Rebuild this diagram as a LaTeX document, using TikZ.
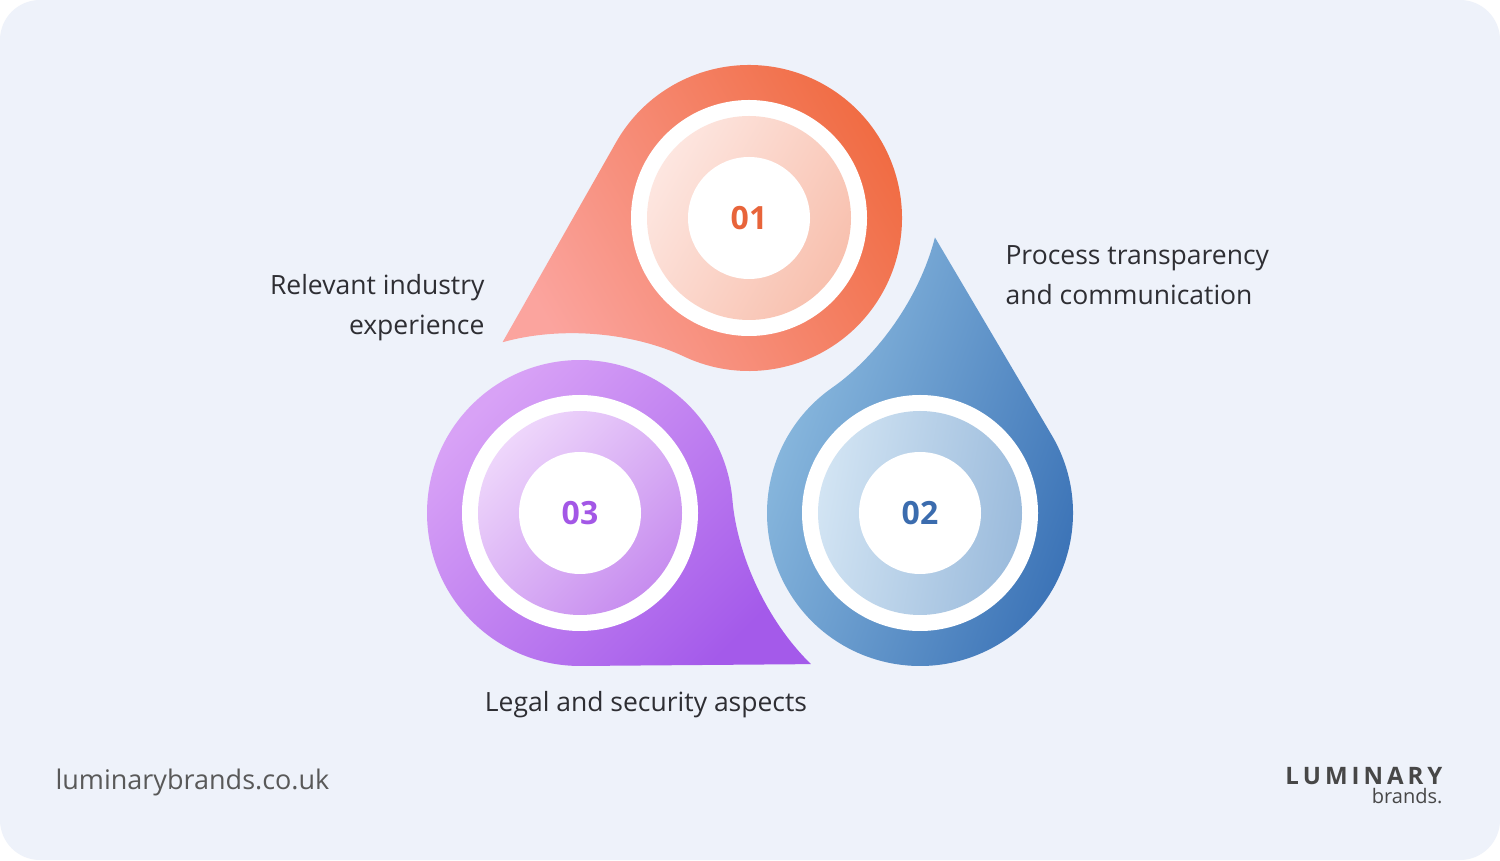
\documentclass[tikz,border=0pt]{standalone}
\usepackage{fontspec}
\setmainfont{Open Sans}
\definecolor{bg}{HTML}{EEF2FA}
\definecolor{txt}{HTML}{2E2E33}
\definecolor{oL}{HTML}{FBA49E}\definecolor{oD}{HTML}{F06A40}
\definecolor{bL}{HTML}{92C0E2}\definecolor{bD}{HTML}{3870B5}
\definecolor{pL}{HTML}{D8A2F6}\definecolor{pD}{HTML}{A45AEA}
\definecolor{oiL}{HTML}{FDE6E0}\definecolor{oiD}{HTML}{F8C0AE}
\definecolor{biL}{HTML}{D2E4F3}\definecolor{biD}{HTML}{9BBBDC}
\definecolor{piL}{HTML}{EED6FB}\definecolor{piD}{HTML}{C78DEF}
\definecolor{oN}{HTML}{E8643A}\definecolor{bN}{HTML}{3B6CAE}\definecolor{pN}{HTML}{A357E6}
\begin{document}
\begin{tikzpicture}[x=1pt,y=1pt,
  lbl/.style={font=\fontsize{26.5}{40}\selectfont, text=txt},
  num/.style={font=\fontsize{32}{32}\selectfont\bfseries}]
\useasboundingbox (0,0) rectangle (1500,860);
\fill[white] (0,0) rectangle (1500,860);
\fill[bg, rounded corners=40pt] (0,0) rectangle (1500,860);
\newcommand\mydrop[5]{% center, rotation, light, dark, shading angle
 \begin{scope}[shift={#1}]
 \shade[top color=#3, bottom color=#4, shading angle=#5, rotate=#2]
   (276,0) -- (-56.3:153) arc[start angle=-56.3, end angle=-322, radius=153]
   .. controls (154.5,50.9) and (215,12) .. (276,0) -- cycle;
 \end{scope}}
\newcommand\myinner[6]{% center, light, dark, angle, numcolor, text
 \fill[white] #1 circle[radius=118];
 \shade[top color=#2, bottom color=#3, shading angle=#4] #1 circle[radius=102];
 \fill[white] #1 circle[radius=61];
 \node[num, text=#5] at #1 {#6};}
\mydrop{(749,642)}{206.75}{oL}{oD}{120}
\mydrop{(920,347)}{86.9}{bL}{bD}{70}
\mydrop{(580,347)}{-33.2}{pL}{pD}{45}
\myinner{(749,642)}{oiL}{oiD}{60}{oN}{01}
\myinner{(920,347)}{biL}{biD}{80}{bN}{02}
\myinner{(580,347)}{piL}{piD}{45}{pN}{03}
\node[lbl, align=right, anchor=east] (t1) at (488,552) {Relevant industry\\experience};
\node[lbl, align=left, anchor=west] (t2) at (1002,585) {Process transparency\\and communication};
\node[lbl, anchor=center] (t3) at (646,155) {Legal and security aspects};
\node[font=\fontsize{27}{27}\selectfont, text=black!65, anchor=west] (w) at (52,78) {luminarybrands.co.uk};
\node[font=\fontsize{24}{24}\selectfont\bfseries, text=black!72, anchor=east] (l1) at (1446,84) {L\,U\,M\,I\,N\,A\,R\,Y};
\node[font=\fontsize{20}{20}\selectfont, text=black!72, anchor=east] (l2) at (1446,64) {brands.};
\end{tikzpicture}
\end{document}
